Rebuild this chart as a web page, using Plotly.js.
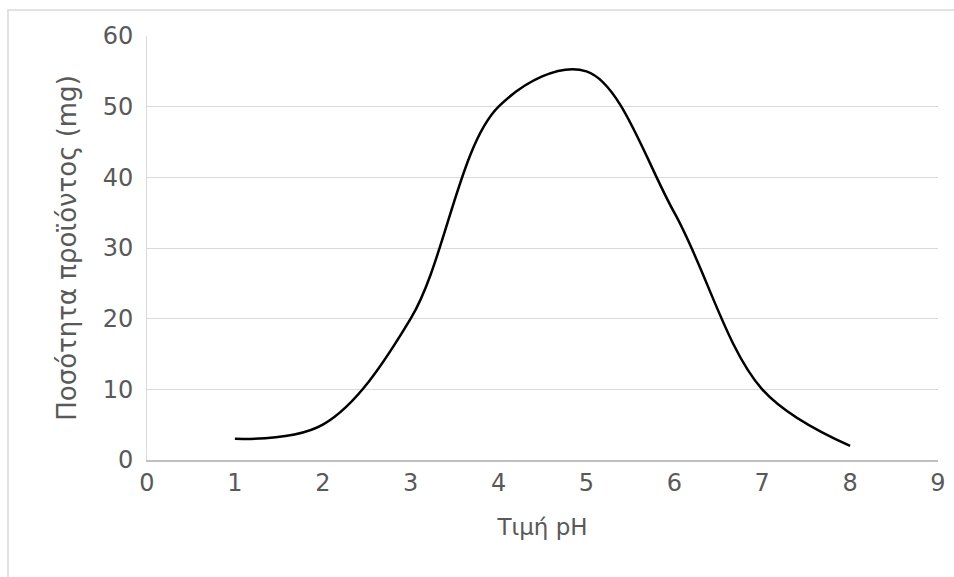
<!DOCTYPE html>
<html>
<head>
<meta charset="utf-8">
<script src="https://cdn.plot.ly/plotly-3.0.1.min.js"></script>
<style>html,body{margin:0;padding:0;background:#fff;}#chart{width:954px;height:577px;}</style>
</head>
<body>
<div id="chart"></div>
<script>
const phValues = [1, 2, 3, 4, 5, 6, 7, 8];
const productMg = [3, 5, 20, 50, 55, 35, 10, 2];
const xTitle = 'Τιμή pH';
const yTitle = 'Ποσότητα προϊόντος (mg)';

const family = 'DejaVu Sans, sans-serif';
const grey = '#595959';
const tickFont = {family: family, size: 24, color: grey};

const trace = {
  x: phValues, y: productMg, type: 'scatter', mode: 'lines',
  line: {shape: 'spline', smoothing: 1, color: '#000000', width: 2.5},
  hoverinfo: 'none'
};

const layout = {
  width: 954, height: 577,
  margin: {l: 147, r: 16, t: 36, b: 117},
  paper_bgcolor: '#ffffff', plot_bgcolor: '#ffffff',
  font: tickFont,
  showlegend: false,
  xaxis: {
    range: [0, 9], dtick: 1, tick0: 0,
    showgrid: false, zeroline: false,
    showline: true, linecolor: '#bfbfbf', linewidth: 1.5,
    ticks: '', ticklen: 0, ticklabelstandoff: 1,
    tickfont: tickFont,
    title: {text: xTitle, font: {family: family, size: 23, color: grey}, standoff: 22}
  },
  yaxis: {
    range: [0, 60], dtick: 10, tick0: 0,
    showgrid: true, gridcolor: '#d9d9d9', gridwidth: 1,
    zeroline: false,
    showline: true, linecolor: '#d9d9d9', linewidth: 1,
    ticks: '', ticklabelstandoff: 8,
    tickfont: tickFont,
    title: {text: yTitle, font: {family: family, size: 26, color: grey}, standoff: 18}
  },
  shapes: [{
    type: 'rect', xref: 'paper', yref: 'paper',
    x0: (8 - 147) / 791, x1: (970 - 147) / 791,
    y0: -0.5, y1: 1 + (36 - 10) / 424,
    line: {color: '#d9d9d9', width: 1.5}, fillcolor: 'rgba(0,0,0,0)', layer: 'below'
  }]
};

Plotly.newPlot('chart', [trace], layout, {displayModeBar: false, staticPlot: true});
</script>
</body>
</html>
